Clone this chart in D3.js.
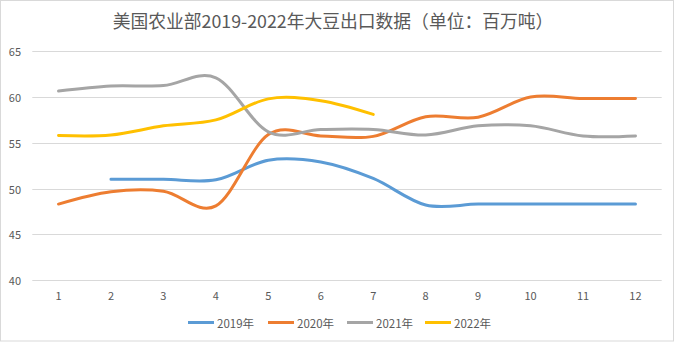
<!DOCTYPE html>
<html><head><meta charset="utf-8">
<script src="https://cdn.jsdelivr.net/npm/d3@7"></script>
<style>
html,body{margin:0;padding:0;background:#fff;}
svg{display:block;font-family:"Noto Sans CJK SC","Noto Sans",sans-serif;}
</style></head>
<body><svg id="c" width="675" height="342"></svg>
<script>
const months = [1,2,3,4,5,6,7,8,9,10,11,12];
const yTicks = [40,45,50,55,60,65];
const seriesNames = ["2019年","2020年","2021年","2022年"];
const colors = ["#5B9BD5","#ED7D31","#A5A5A5","#FFC000"];
const v2019 = [null,51.0,51.0,50.95,53.1,52.9,51.1,48.2,48.3,48.3,48.3,48.3];
const v2020 = [48.3,49.65,49.7,48.1,55.9,55.75,55.7,57.85,57.8,60.0,59.85,59.85];
const v2021 = [60.65,61.2,61.25,62.1,56.2,56.45,56.45,55.85,56.85,56.85,55.75,55.75];
const v2022 = [55.8,55.85,56.85,57.5,59.8,59.6,58.1,null,null,null,null,null];
const allValues = [v2019,v2020,v2021,v2022];

const svg = d3.select("#c");
svg.append("rect").attr("x",0.5).attr("y",0.5).attr("width",673).attr("height",340.5)
  .attr("fill","#fff").attr("stroke","#d9d9d9");

const x = d3.scaleBand().domain(months).range([32.3,661.7]);
const y = d3.scaleLinear().domain([40,65]).range([280,51.3]);
const cx = d => x(d)+x.bandwidth()/2;

svg.append("text").attr("x",333).attr("y",20).attr("text-anchor","middle")
  .attr("dominant-baseline","central").attr("font-size",17.8).attr("fill","#595959")
  .text("美国农业部2019-2022年大豆出口数据（单位：百万吨）");

const grid = svg.append("g");
yTicks.forEach(t=>{
  grid.append("line").attr("x1",32.3).attr("x2",661.7).attr("y1",Math.round(y(t))+0.5).attr("y2",Math.round(y(t))+0.5)
    .attr("stroke","#d9d9d9").attr("stroke-width",1);
  grid.append("text").attr("x",21).attr("y",y(t)).attr("text-anchor","end")
    .attr("dominant-baseline","central").attr("font-size",11).attr("fill","#595959").text(t);
});
months.forEach(m=>{
  svg.append("text").attr("x",cx(m)).attr("y",295).attr("text-anchor","middle")
    .attr("dominant-baseline","central").attr("font-size",11).attr("fill","#595959").text(m);
});

const line = d3.line().defined(d=>d.v!=null).x(d=>cx(d.m)).y(d=>y(d.v)).curve(d3.curveCatmullRom.alpha(0));
allValues.forEach((vals,i)=>{
  const data = months.map((m,j)=>({m:m,v:vals[j]}));
  svg.append("path").datum(data).attr("d",line).attr("fill","none")
    .attr("stroke",colors[i]).attr("stroke-width",3).attr("stroke-linecap","round");
});

const legX = [188,268,347,425];
seriesNames.forEach((n,i)=>{
  svg.append("line").attr("x1",legX[i]).attr("x2",legX[i]+26).attr("y1",322.5).attr("y2",322.5)
    .attr("stroke",colors[i]).attr("stroke-width",3);
  svg.append("text").attr("x",legX[i]+29).attr("y",322.5).attr("dominant-baseline","central")
    .attr("font-size",11.5).attr("fill","#595959").text(n);
});
</script></body></html>
